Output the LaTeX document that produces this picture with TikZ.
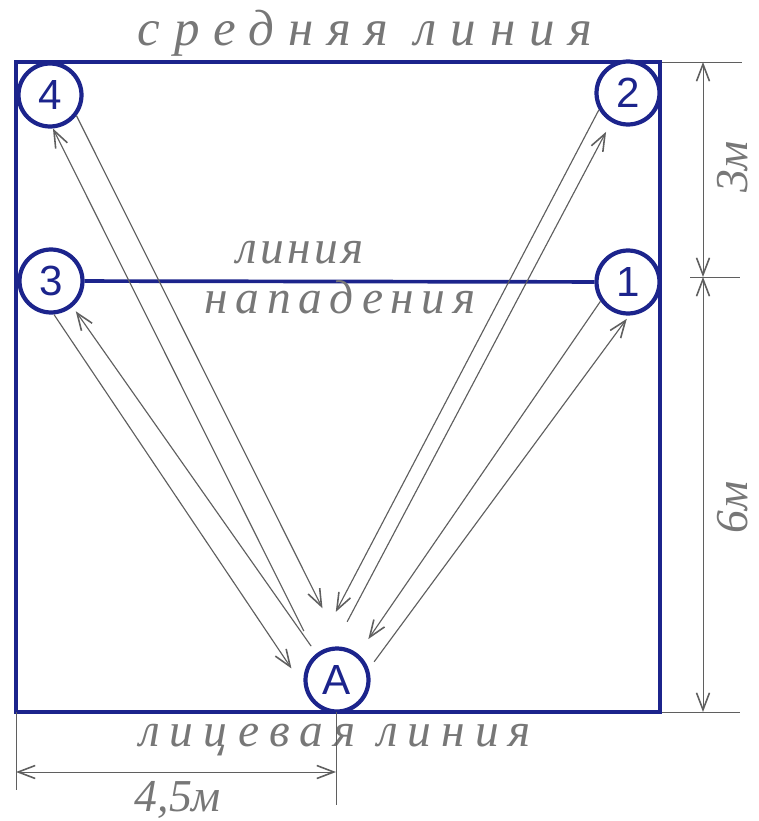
\documentclass[tikz,border=0pt]{standalone}
\usepackage{fontspec}
\setmainfont{Liberation Serif}
\newfontfamily\numfont{Liberation Sans}
\usetikzlibrary{arrows.meta}
\definecolor{court}{RGB}{28,36,140}
\definecolor{pencil}{RGB}{95,95,95}

\begin{document}
\begin{tikzpicture}[x=0.02cm,y=-0.02cm,
  line/.style={court,line width=2.1pt},
  player/.style={circle,draw=court,line width=2.4pt,fill=white,
    minimum size=1.26cm,inner sep=0pt,text=court,
    font=\numfont\fontsize{24}{24}\selectfont},
  barb/.tip={Straight Barb[length=0.34cm,width=0.26cm,line width=0.9pt]},
  pass/.style={pencil,line width=0.65pt,-barb},
  dim/.style={pencil,line width=0.5pt},
  hand/.style={pencil!85,font=\itshape\fontsize{27}{29}\selectfont\addfontfeature{LetterSpace=#1}},
  hand/.default=20,
  bighand/.style={pencil!85,inner sep=0pt,font=\itshape\fontsize{29}{31}\selectfont\addfontfeature{LetterSpace=27}},
  size/.style={pencil!85,inner sep=0pt,font=\itshape\fontsize{26}{28}\selectfont}]
  \useasboundingbox (0,0) rectangle (758,821);
  \draw[line] (16,62) rectangle (660,712);
  \node[player] (pl4) at (50,95) {4};
  \node[player] (pl2) at (628,93) {2};
  \node[player] (pl3) at (51,281) {3};
  \node[player] (pl1) at (628,282) {1};
  \node[player] (pA) at (337,680) {A};
  \draw[line] (pl3) -- (pl1);
  % passes
  \draw[pass,shorten >=0.86cm] (pl4.-38) -- (pA.82);
  \draw[pass,shorten <=0.52cm] (pA.130) -- (pl4.-85);
  \draw[pass,shorten >=0.46cm] (pl3.-85) -- (pA.193);
  \draw[pass,shorten <=0.18cm,shorten >=0.11cm] (pA.128) -- (pl3.-50);
  \draw[pass,shorten >=1.04cm] (pl2.-150) -- (pA.139);
  \draw[pass,shorten <=0.56cm,shorten >=0.22cm] (pA.95) -- (pl2.240);
  \draw[pass,shorten >=0.36cm] (pl1.-145) -- (pA.51);
  \draw[pass,shorten <=0.18cm,shorten >=0.08cm] (pA.19) -- (pl1.-88);
  % texts
  \node[bighand] (midline) at (365,33) {средняя линия};
  \node[hand=7] (attack1) at (300,253) {линия};
  \node[hand=16] (attack2) at (340,297) {нападения};
  \node[hand=21] (endline) at (335,740) {лицевая линия};
  % dimensions
  \coordinate (dTop) at (703,62);
  \coordinate (dMid) at (703,277);
  \coordinate (dBot) at (703,712);
  \draw[dim] (662,62) -- (742,62) (690,277) -- (740,277) (662,712) -- (740,712);
  \draw[dim,barb-barb] (dTop) -- (dMid);
  \draw[dim,barb-barb] (dMid) -- (dBot);
  \node[size,rotate=90] (three) at (733,167) {3м};
  \node[size,rotate=90] (six) at (733,507) {6м};
  \coordinate (dLeft) at (16,772);
  \coordinate (dRight) at (336,772);
  \draw[dim] (16,712) -- (16,790) (336,712) -- (336,805);
  \draw[dim,barb-barb] (dLeft) -- (dRight);
  \node[size] (width) at (178,800) {4,5м};
\end{tikzpicture}
\end{document}
